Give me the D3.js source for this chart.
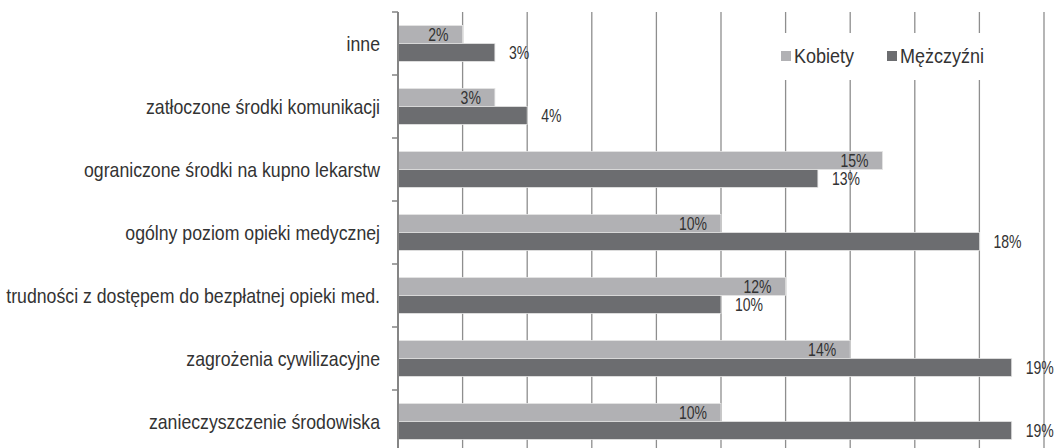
<!DOCTYPE html>
<html lang="pl">
<head>
<meta charset="UTF-8">
<title>Problemy zdrowotne</title>
<style>
  body { margin: 0; background: #fff; }
  #chart { width: 1057px; height: 448px; overflow: hidden; }
  text { font-family: "Liberation Sans", Arial, sans-serif; fill: #333; }
</style>
</head>
<body>
<div id="chart"></div>
<script src="https://cdnjs.cloudflare.com/ajax/libs/d3/7.8.5/d3.min.js"></script>
<script>
// categories, top to bottom
const categories = [
  "inne",
  "zatłoczone środki komunikacji",
  "ograniczone środki na kupno lekarstw",
  "ogólny poziom opieki medycznej",
  "trudności z dostępem do bezpłatnej opieki med.",
  "zagrożenia cywilizacyjne",
  "zanieczyszczenie środowiska"
];
const seriesNames = ["Kobiety", "Mężczyźni"];
const kobiety = [2, 3, 15, 10, 12, 14, 10];
const mezczyzni = [3, 4, 13, 18, 10, 19, 19];
const xTicks = [0, 2, 4, 6, 8, 10, 12, 14, 16, 18, 20];

const colors = { "Kobiety": "#b1b1b4", "Mężczyźni": "#6c6d70" };

// no narrow font installed, so squeeze a regular one horizontally
const squeeze = (px, py, sx) => `translate(${px},${py}) scale(${sx},1)`;

const svg = d3.select("#chart").append("svg")
  .attr("width", 1057)
  .attr("height", 448);

const x = d3.scaleLinear().domain([0, 20]).range([398, 1044]);

const y = d3.scaleBand()
  .domain(categories)
  .range([12, 453])
  .paddingInner(0.43)
  .paddingOuter(0.215);

const ySub = d3.scaleBand()
  .domain(seriesNames)
  .range([0, y.bandwidth()]);

// vertical gridlines
svg.append("g")
  .selectAll("line")
  .data(xTicks.slice(1))
  .enter().append("line")
  .attr("x1", d => x(d)).attr("x2", d => x(d))
  .attr("y1", 12).attr("y2", 453)
  .attr("stroke", "#8e8e8e")
  .attr("stroke-width", 1.3);

// legend background hides the gridlines behind it
svg.append("rect")
  .attr("x", 765).attr("y", 33)
  .attr("width", 230).attr("height", 47)
  .attr("fill", "#fff");

// rows of data
const rows = categories.map((c, i) => ({ cat: c, values: [
  { s: "Kobiety", v: kobiety[i] },
  { s: "Mężczyźni", v: mezczyzni[i] }
]}));

const groups = svg.append("g").selectAll("g")
  .data(rows)
  .enter().append("g")
  .attr("transform", d => `translate(0,${y(d.cat)})`);

groups.selectAll("rect")
  .data(d => d.values)
  .enter().append("rect")
  .attr("x", x(0))
  .attr("y", d => ySub(d.s))
  .attr("width", d => x(d.v) - x(0))
  .attr("height", ySub.bandwidth())
  .attr("fill", d => colors[d.s])
  .attr("stroke", "#e4e4e4")
  .attr("stroke-width", 0.8);

groups.selectAll("text.val")
  .data(d => d.values)
  .enter().append("text")
  .attr("class", "val")
  .attr("transform", d => squeeze(
    d.s === "Kobiety" ? x(d.v) - 14 : x(d.v) + 14,
    ySub(d.s) + ySub.bandwidth() / 2, 0.78))
  .attr("dy", "0.36em")
  .attr("text-anchor", d => d.s === "Kobiety" ? "end" : "start")
  .style("font-size", "18px")
  .text(d => d.v + "%");

// axis line and ticks at category boundaries
svg.append("line")
  .attr("x1", x(0)).attr("x2", x(0))
  .attr("y1", 12).attr("y2", 453)
  .attr("stroke", "#858585")
  .attr("stroke-width", 2);

svg.append("g")
  .selectAll("line")
  .data(d3.range(categories.length + 1))
  .enter().append("line")
  .attr("x1", x(0) - 6).attr("x2", x(0))
  .attr("y1", i => y.range()[0] + i * y.step())
  .attr("y2", i => y.range()[0] + i * y.step())
  .attr("stroke", "#858585")
  .attr("stroke-width", 1.5);

// category labels
svg.append("g")
  .selectAll("text")
  .data(categories)
  .enter().append("text")
  .attr("transform", d => squeeze(380, y(d) + y.bandwidth() / 2, 0.885))
  .attr("dy", "0.36em")
  .attr("text-anchor", "end")
  .style("font-size", "20px")
  .text(d => d);

// legend
const legend = svg.append("g");
const legendX = [781, 887];
seriesNames.forEach((s, i) => {
  legend.append("rect")
    .attr("x", legendX[i]).attr("y", 51)
    .attr("width", 10).attr("height", 10)
    .attr("fill", colors[s]);
  legend.append("text")
    .attr("transform", squeeze(legendX[i] + 13, 56, 0.9))
    .attr("dy", "0.36em")
    .style("font-size", "20px")
    .text(s);
});
</script>
</body>
</html>
